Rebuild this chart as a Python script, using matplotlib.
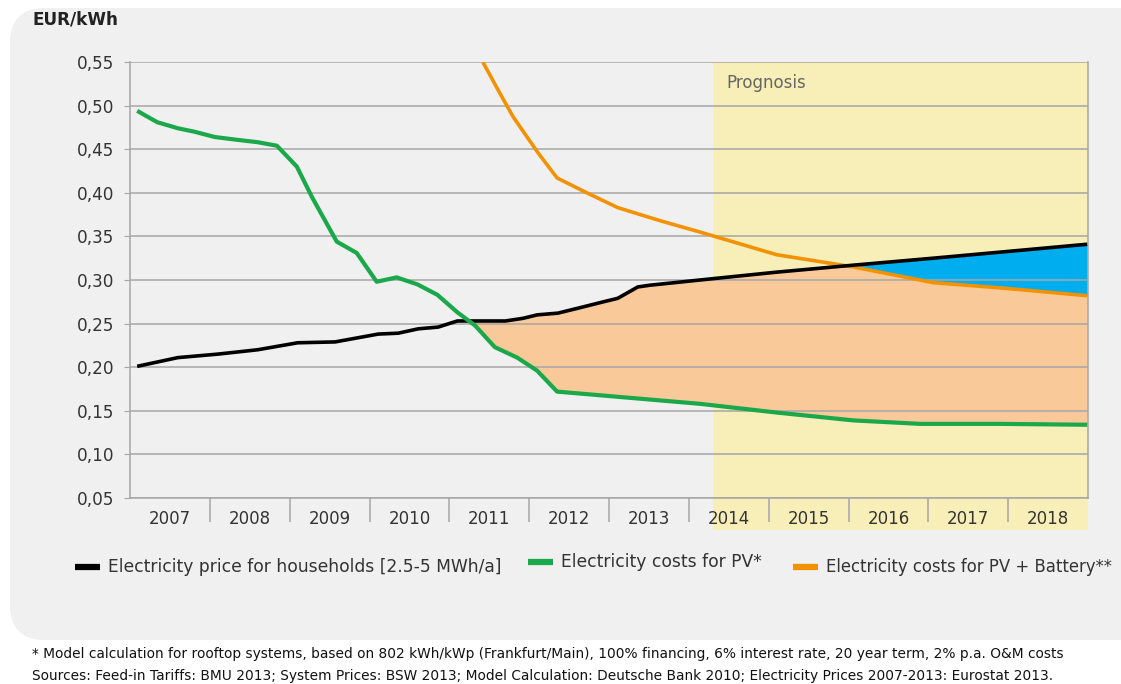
import matplotlib
matplotlib.use('Agg')
import matplotlib.pyplot as plt
import numpy as np
from matplotlib.patches import FancyBboxPatch
from matplotlib.lines import Line2D
from matplotlib.ticker import FixedLocator, FuncFormatter

# data (x in fractional years)
household_x = [2007.09, 2007.60, 2008.10, 2008.60, 2009.10, 2009.57, 2010.11, 2010.36,
               2010.61, 2010.86, 2011.10, 2011.36, 2011.70, 2011.92, 2012.10, 2012.36,
               2012.67, 2012.93, 2013.11, 2013.36, 2013.51, 2014.14, 2015.10, 2016.06,
               2017.06, 2018.99]
household_y = [0.201, 0.211, 0.215, 0.220, 0.228, 0.229, 0.238, 0.239,
               0.244, 0.246, 0.253, 0.253, 0.253, 0.256, 0.260, 0.262,
               0.269, 0.275, 0.279, 0.292, 0.294, 0.300, 0.309, 0.317,
               0.325, 0.341]

pv_x = [2007.09, 2007.34, 2007.60, 2007.81, 2008.06, 2008.32, 2008.60, 2008.84,
        2009.09, 2009.28, 2009.59, 2009.84, 2010.09, 2010.34, 2010.60, 2010.85,
        2011.10, 2011.32, 2011.57, 2011.85, 2012.10, 2012.35, 2014.14, 2015.10,
        2016.06, 2016.90, 2017.90, 2018.99]
pv_y = [0.494, 0.481, 0.474, 0.470, 0.464, 0.461, 0.458, 0.454,
        0.430, 0.395, 0.344, 0.331, 0.298, 0.303, 0.295, 0.283,
        0.263, 0.248, 0.223, 0.211, 0.196, 0.172, 0.158, 0.148,
        0.139, 0.135, 0.135, 0.134]

batt_x = [2011.42, 2011.61, 2011.80, 2012.11, 2012.35, 2012.70, 2013.11, 2013.64,
          2014.14, 2015.10, 2016.06, 2017.06, 2017.90, 2018.99]
batt_y = [0.550, 0.518, 0.487, 0.446, 0.417, 0.401, 0.383, 0.368,
          0.355, 0.329, 0.315, 0.297, 0.291, 0.282]

years = list(range(2007, 2019))
yticks = [0.05, 0.10, 0.15, 0.20, 0.25, 0.30, 0.35, 0.40, 0.45, 0.50, 0.55]
prognosis_start = 2014.3

labels = ['Electricity price for households [2.5-5 MWh/a]',
          'Electricity costs for PV*',
          'Electricity costs for PV + Battery**']
footnote1 = ('* Model calculation for rooftop systems, based on 802 kWh/kWp (Frankfurt/Main), '
             '100% financing, 6% interest rate, 20 year term, 2% p.a. O&M costs')
footnote2 = ('Sources: Feed-in Tariffs: BMU 2013; System Prices: BSW 2013; Model Calculation: '
             'Deutsche Bank 2010; Electricity Prices 2007-2013: Eurostat 2013.')

BLACK = '#000000'
GREEN = '#1aa84b'
ORANGE = '#f39200'
PEACH = '#fac99a'
BLUE = '#00adef'
YELLOW = '#f7eeb8'
PANEL = '#f0f0f0'
GRID = '#a6a6a6'
TEXT = '#333333'

fig = plt.figure(figsize=(11.21, 6.84), dpi=100)
fig.patch.set_facecolor('white')

# rounded grey panel
panel = FancyBboxPatch((0.10, 0.44), 11.5, 6.32,
                       boxstyle='round,pad=0,rounding_size=0.35',
                       transform=fig.dpi_scale_trans, facecolor=PANEL,
                       edgecolor='none', zorder=-10)
fig.add_artist(panel)

ax = fig.add_axes([130 / 1121, 1 - 498 / 684, (1088 - 130) / 1121, (498 - 62) / 684])
ax.set_facecolor('none')
ax.set_xlim(2007, 2019)
ax.set_ylim(0.05, 0.55)

# prognosis shading (extends under the year labels)
trans = ax.get_xaxis_transform()
ax.fill_between([prognosis_start, 2019], [-0.073, -0.073], [1, 1], transform=trans,
                color=YELLOW, lw=0, zorder=0, clip_on=False)
ax.text(prognosis_start + 0.17, 0.526, 'Prognosis', fontsize=12, color='#666666',
        va='center', ha='left', zorder=1)

# fills between the curves
grid_x = np.linspace(pv_x[0], pv_x[-1], 1500)
g = np.interp(grid_x, pv_x, pv_y)
b = np.interp(grid_x, household_x, household_y)
o = np.interp(grid_x, batt_x, batt_y, left=np.inf)
upper = np.minimum(b, o)
ax.fill_between(grid_x, g, upper, where=upper > g, interpolate=True,
                color=PEACH, lw=0, zorder=1)
ok = np.isfinite(o)
ax.fill_between(grid_x[ok], o[ok], b[ok], where=o[ok] < b[ok], interpolate=True,
                color=BLUE, lw=0, zorder=1)

for y in yticks:
    ax.axhline(y, color=GRID, lw=1.1, zorder=2)

ax.plot(batt_x, batt_y, color=ORANGE, lw=2.6, zorder=3, solid_capstyle='butt')
ax.plot(household_x, household_y, color=BLACK, lw=2.6, zorder=4, solid_capstyle='butt')
ax.plot(pv_x, pv_y, color=GREEN, lw=3.0, zorder=5, solid_capstyle='butt')

# axes styling
ax.spines['top'].set_visible(False)
for s in ['left', 'right', 'bottom']:
    ax.spines[s].set_color(GRID)
    ax.spines[s].set_linewidth(1.1)

ax.set_yticks(yticks)
ax.yaxis.set_major_formatter(FuncFormatter(lambda v, p: f'{v:.2f}'.replace('.', ',')))
ax.tick_params(axis='y', length=4, color=GRID, labelsize=12.2, labelcolor=TEXT, pad=7)

ax.xaxis.set_major_locator(FixedLocator(years[1:]))
ax.xaxis.set_minor_locator(FixedLocator([y + 0.5 for y in years]))
ax.xaxis.set_major_formatter(FuncFormatter(lambda v, p: ''))
ax.xaxis.set_minor_formatter(FuncFormatter(lambda v, p: str(int(v))))
ax.tick_params(axis='x', which='major', length=17, color=GRID, width=1.1)
ax.tick_params(axis='x', which='minor', length=0, labelsize=12, labelcolor=TEXT, pad=9)

fig.text(32 / 1121, 1 - 20 / 684, 'EUR/kWh', fontsize=12.2, fontweight='bold',
         color='#222222', va='center', ha='left')

# legend drawn by hand
leg = [(75, 567, BLACK, labels[0], 12.3), (528, 562, GREEN, labels[1], 12.3),
       (793, 567, ORANGE, labels[2], 11.9)]
for x0, y0, c, lab, fs in leg:
    yf = 1 - y0 / 684
    fig.add_artist(Line2D([x0 / 1121, (x0 + 25) / 1121], [yf, yf], color=c, lw=4.5,
                          solid_capstyle='butt'))
    fig.text((x0 + 33) / 1121, yf, lab, fontsize=fs, color=TEXT, va='center', ha='left')

fig.text(32 / 1121, 1 - 654 / 684, footnote1, fontsize=9.9, color='#111111',
         va='center', ha='left')
fig.text(32 / 1121, 1 - 676 / 684, footnote2, fontsize=9.9, color='#111111',
         va='center', ha='left')

fig.savefig('out.png', dpi=100)
